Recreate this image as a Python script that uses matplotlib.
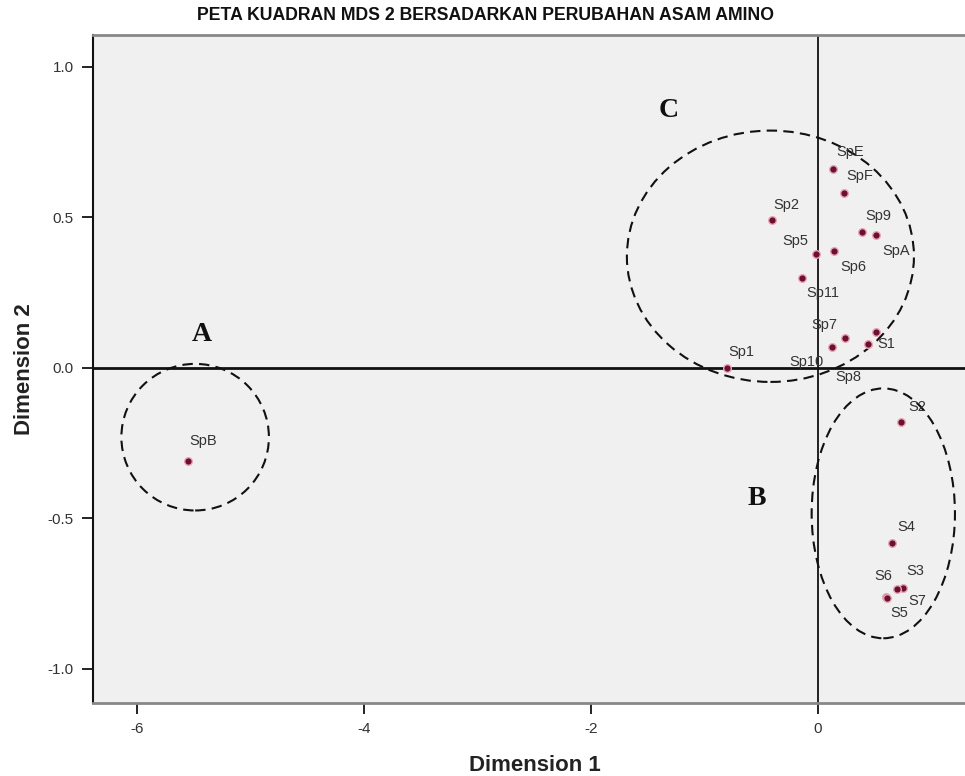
import matplotlib
matplotlib.use("Agg")
import matplotlib.pyplot as plt
from matplotlib.patches import Ellipse

# MDS coordinates
labels = ["SpB", "Sp1", "Sp2", "Sp5", "Sp6", "SpE", "SpF", "Sp9", "SpA", "Sp11",
          "Sp7", "Sp10", "S1", "Sp8", "S2", "S4", "S3", "S7", "S6", "S5"]
dim1 = [-5.55, -0.80, -0.41, -0.02, 0.14, 0.13, 0.23, 0.39, 0.51, -0.14,
        0.24, 0.12, 0.44, 0.51, 0.73, 0.65, 0.75, 0.70, 0.60, 0.61]
dim2 = [-0.31, 0.00, 0.49, 0.38, 0.39, 0.66, 0.58, 0.45, 0.44, 0.30,
        0.10, 0.07, 0.08, 0.12, -0.18, -0.58, -0.73, -0.735, -0.76, -0.765]

x_ticks = [-6, -4, -2, 0]
y_ticks = [-1.0, -0.5, 0.0, 0.5, 1.0]

# label offsets in pixels (dx, dy)
label_offset = {
    "SpB": (15, 20), "Sp1": (14, 16), "Sp2": (15, 15), "Sp5": (-20, 13),
    "Sp6": (19, -16), "SpE": (17, 17), "SpF": (16, 17), "Sp9": (16, 16),
    "SpA": (20, -16), "Sp11": (21, -15), "Sp7": (-21, 13), "Sp10": (-25, -15),
    "S1": (18, 0), "Sp8": (-28, -45), "S2": (16, 15), "S4": (14, 16),
    "S3": (12, 17), "S7": (20, -12), "S6": (-3, 21), "S5": (12, -15),
}

fig = plt.figure(figsize=(9.65, 7.76), dpi=100)
ax = fig.add_axes([0.0964, 0.0941, 0.9036, 0.8608])
ax.set_facecolor("#f0f0f0")
ax.set_xlim(-6.39, 1.295)
ax.set_ylim(-1.113, 1.106)

# quadrant lines
ax.axhline(0, color="#111111", lw=2.0, zorder=2)
ax.axvline(0, color="#111111", lw=1.3, zorder=2)

# cluster ellipses
for (cx, cy, w, h) in [(-5.49, -0.23, 1.30, 0.487),
                       (-0.42, 0.371, 2.53, 0.835),
                       (0.575, -0.483, 1.263, 0.83)]:
    ax.add_patch(Ellipse((cx, cy), w, h, fill=False, edgecolor="#111111",
                         lw=1.5, linestyle=(0, (5, 3)), zorder=3))

ax.plot(dim1, dim2, "o", ms=5.5, color="#6b1030", mec="#eaa5b6", mew=1.0,
        zorder=4, linestyle="none")
for name, x, y in zip(labels, dim1, dim2):
    dx, dy = label_offset[name]
    ax.annotate(name, (x, y), xytext=(dx, dy), textcoords="offset pixels",
                ha="center", va="center", fontsize=10.5,
                family="Liberation Sans", color="#333333", zorder=5)

# group letters
for txt, x, y in [("A", -5.43, 0.11), ("B", -0.54, -0.435), ("C", -1.32, 0.854)]:
    ax.text(x, y, txt, ha="center", va="center", fontsize=20,
            fontweight="bold", family="Liberation Serif", color="#111111")

ax.set_xticks(x_ticks)
ax.set_xticklabels([str(t) for t in x_ticks])
ax.set_yticks(y_ticks)
ax.set_yticklabels([f"{t:.1f}" for t in y_ticks])
ax.tick_params(direction="out", length=8, width=1.3, color="#111111",
               labelsize=11, labelcolor="#333333", pad=6)
for lab in ax.get_xticklabels() + ax.get_yticklabels():
    lab.set_family("Liberation Sans")

ax.spines["left"].set_color("#111111")
ax.spines["left"].set_linewidth(1.5)
for s in ["top", "bottom"]:
    ax.spines[s].set_color("#888888")
    ax.spines[s].set_linewidth(2.0)
ax.spines["right"].set_visible(False)

fig.text(0.554, 0.007, "Dimension 1", ha="center", va="baseline",
         fontsize=16, fontweight="bold", family="Liberation Sans", color="#222222")
fig.text(0.025, 0.524, "Dimension 2", ha="center", va="center", rotation=90,
         fontsize=16, fontweight="bold", family="Liberation Sans", color="#222222")
fig.text(0.503, 0.980, "PETA KUADRAN MDS 2 BERSADARKAN PERUBAHAN ASAM AMINO",
         ha="center", va="center", fontsize=12.7, fontweight="bold",
         family="Liberation Sans", color="#111111")

fig.savefig("out.png", dpi=100, facecolor="white")
